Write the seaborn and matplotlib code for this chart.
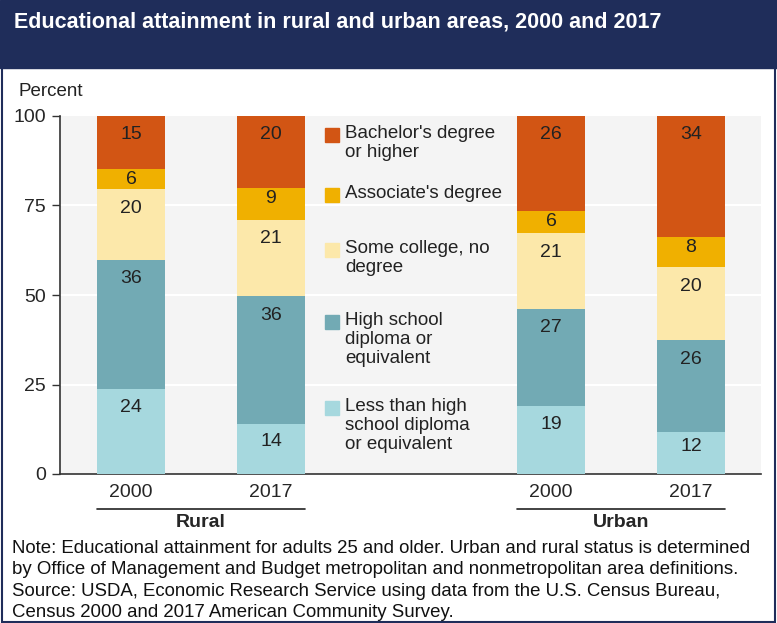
import matplotlib.pyplot as plt
import seaborn as sns
import pandas as pd
import numpy as np
from matplotlib.patches import Rectangle
import matplotlib.transforms as mtransforms

# Data (percent of adults 25 and older)
areas = ["Rural", "Rural", "Urban", "Urban"]
years = ["2000", "2017", "2000", "2017"]
less_than_hs = [23.8, 14.0, 19.1, 11.8]
high_school = [36.0, 35.6, 27.1, 25.6]
some_college = [19.8, 21.4, 21.0, 20.3]
associate = [5.6, 9.0, 6.4, 8.4]
bachelor = [14.8, 20.0, 26.4, 33.9]

levels = ["Less than high\nschool diploma\nor equivalent",
          "High school\ndiploma or\nequivalent",
          "Some college, no\ndegree",
          "Associate's degree",
          "Bachelor's degree\nor higher"]
series = [less_than_hs, high_school, some_college, associate, bachelor]
colors = ["#a6d8de", "#72aab4", "#fce8aa", "#f0b000", "#d25514"]

# x positions, leaving a gap between the groups for the legend
positions = [0, 1, 3, 4]

sns.set_theme(style="white")
plt.rcParams["font.family"] = ["Liberation Sans", "DejaVu Sans"]

fig = plt.figure(figsize=(7.77, 6.23), dpi=100)
ax = fig.add_axes([60 / 777, 1 - 474 / 623, 701 / 777, 358 / 623])
ax.set_facecolor("#f4f4f4")

bottoms = np.zeros(len(positions))
for level, vals, col in zip(levels, series, colors):
    df = pd.DataFrame({"pos": positions, "value": vals})
    sns.barplot(data=df, x="pos", y="value", native_scale=True, bottom=bottoms,
                color=col, width=0.48, errorbar=None, linewidth=0, saturation=1,
                ax=ax, zorder=3)
    for p, v, b in zip(positions, vals, bottoms):
        top = b + v
        off = v / 2 if v < 7 else min(5.3, 0.35 * v)
        ax.text(p, top - off, f"{v:.0f}", ha="center", va="center",
                fontsize=14, color="#222222", zorder=4)
    bottoms = bottoms + np.array(vals)

ax.set_xlim(-0.507, 4.5)
ax.set_ylim(0, 100)
ax.set_yticks([0, 25, 50, 75, 100])
ax.set_xticks(positions)
ax.set_xticklabels(years)
ax.set_xlabel("")
ax.set_ylabel("")
ax.tick_params(axis="y", length=6, width=1, labelsize=14, color="#333333",
               pad=4, left=True)
ax.tick_params(axis="x", length=0, labelsize=14, pad=7)
for y in [25, 50, 75]:
    ax.axhline(y, color="white", lw=1.5, zorder=1)
for s in ["top", "right"]:
    ax.spines[s].set_visible(False)
for s in ["left", "bottom"]:
    ax.spines[s].set_color("#333333")
    ax.spines[s].set_linewidth(1.2)

# group labels with underline
trans = mtransforms.blended_transform_factory(ax.transData, ax.transAxes)
for (a, b), name in [((0, 1), "Rural"), ((3, 4), "Urban")]:
    ax.plot([a - 0.24, b + 0.24], [-0.098, -0.098], color="#222222", lw=1.2,
            transform=trans, clip_on=False)
    ax.text((a + b) / 2, -0.135, name, ha="center", va="center", fontsize=14,
            fontweight="bold", transform=trans)

# legend drawn inside the gap
def px_to_ax(xp, yp):
    return (xp - 60) / 701, (474 - yp) / 358

legend_rows = [(135, 4), (195, 3), (250, 2), (322, 1), (408, 0)]
for yc, i in legend_rows:
    sx, sy = px_to_ax(325, yc + 7)
    ax.add_patch(Rectangle((sx, sy), 14 / 701, 14 / 358, transform=ax.transAxes,
                           color=colors[i], zorder=5, clip_on=False))
    tx, ty = px_to_ax(345, yc - 10)
    ax.text(tx, ty, levels[i], transform=ax.transAxes, ha="left", va="top",
            fontsize=13.5, color="#222222", linespacing=1.15, zorder=5)

# header band and frame
navy = "#1f2d5a"
fig.patches.append(Rectangle((0, 1 - 68 / 623), 1, 68 / 623,
                             transform=fig.transFigure, color=navy, zorder=0))
fig.patches.append(Rectangle((0.002, 0.002), 0.996, 0.996, transform=fig.transFigure,
                             fill=False, edgecolor=navy, lw=1.5, zorder=10))
fig.text(14 / 777, 1 - 22 / 623, "Educational attainment in rural and urban areas, 2000 and 2017",
         color="white", fontsize=15.5, fontweight="bold", va="center", ha="left")
fig.text(18 / 777, 1 - 92 / 623, "Percent", fontsize=13.5, va="center", ha="left",
         color="#222222")

note = ("Note: Educational attainment for adults 25 and older. Urban and rural status is determined\n"
        "by Office of Management and Budget metropolitan and nonmetropolitan area definitions.\n"
        "Source: USDA, Economic Research Service using data from the U.S. Census Bureau,\n"
        "Census 2000 and 2017 American Community Survey.")
fig.text(12 / 777, 1 - 540 / 623, note, fontsize=13.4, va="top", ha="left",
         color="#111111", linespacing=1.33)

fig.savefig("out.png", dpi=100)
